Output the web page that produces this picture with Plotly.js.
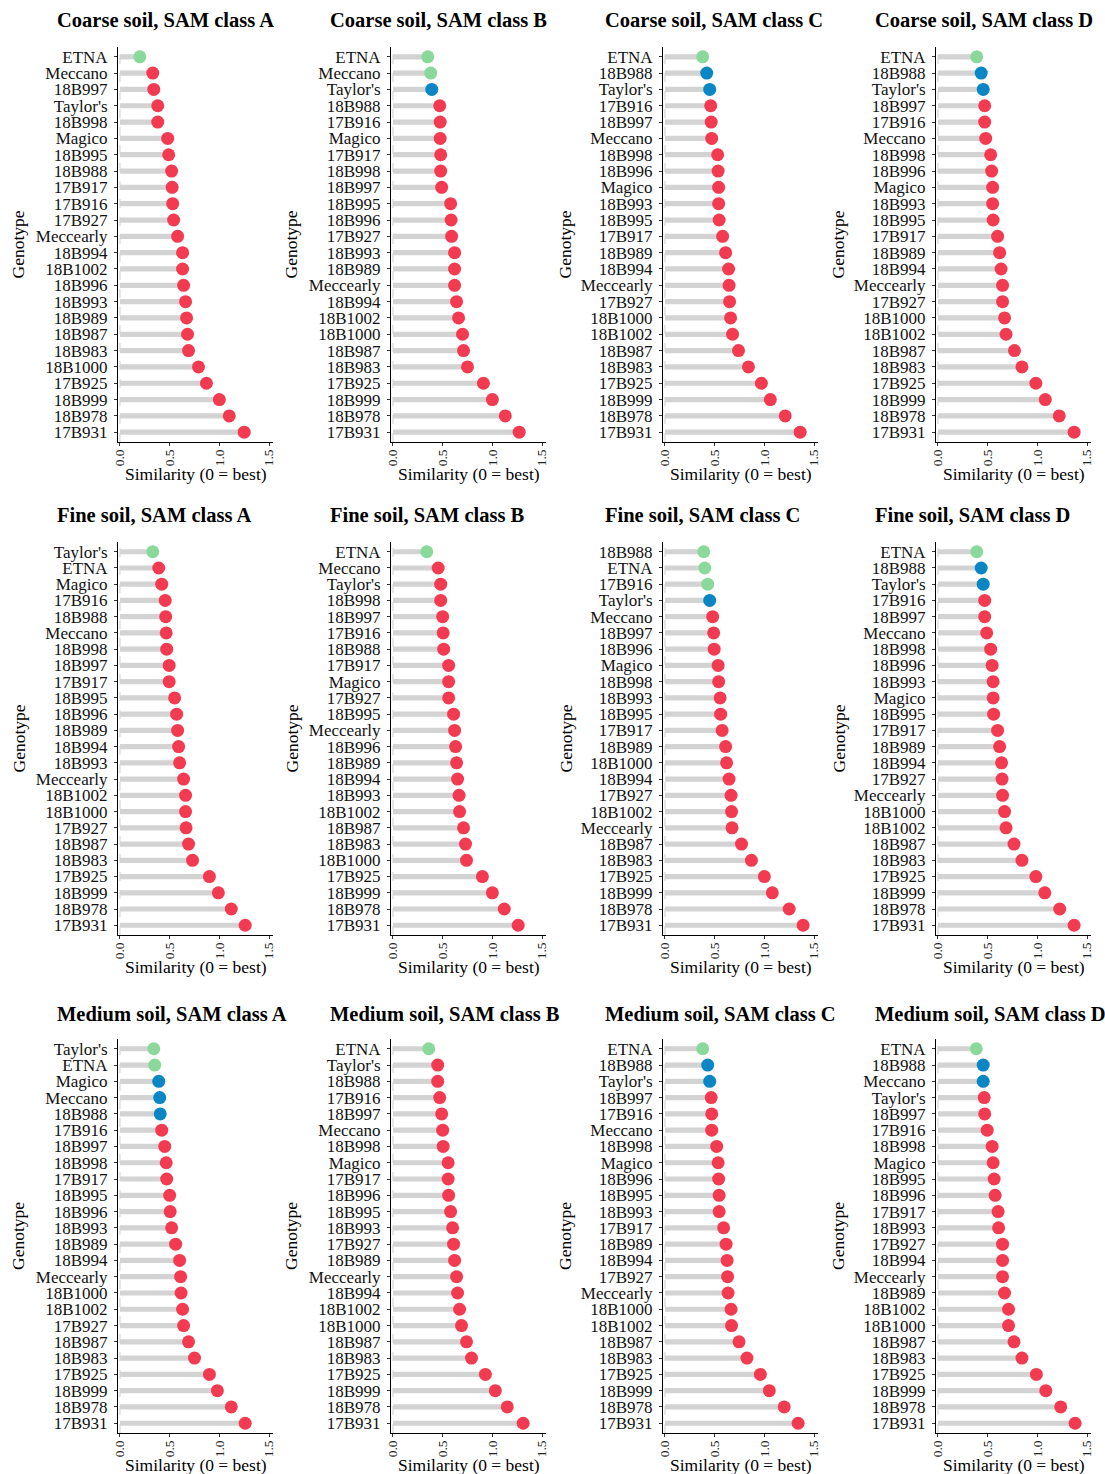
<!DOCTYPE html>
<html>
<head>
<meta charset="utf-8">
<script src="https://cdn.plot.ly/plotly-3.0.1.min.js"></script>
<style>html,body{margin:0;padding:0;background:#fff;}#chart{width:1105px;height:1474px;}</style>
</head>
<body>
<div id="chart"></div>
<script>
// ---------------- DATA ----------------
const coarseA_geno = ["ETNA","Meccano","18B997","Taylor's","18B998","Magico","18B995","18B988","17B917","17B916","17B927","Meccearly","18B994","18B1002","18B996","18B993","18B989","18B987","18B983","18B1000","17B925","18B999","18B978","17B931"];
const coarseA_val  = [0.20,0.33,0.34,0.38,0.38,0.48,0.49,0.52,0.525,0.53,0.54,0.58,0.63,0.63,0.64,0.66,0.67,0.68,0.69,0.79,0.87,1.00,1.10,1.25];
const coarseA_grp  = "GRRRRRRRRRRRRRRRRRRRRRRR";

const coarseB_geno = ["ETNA","Meccano","Taylor's","18B988","17B916","Magico","17B917","18B998","18B997","18B995","18B996","17B927","18B993","18B989","Meccearly","18B994","18B1002","18B1000","18B987","18B983","17B925","18B999","18B978","17B931"];
const coarseB_val  = [0.35,0.38,0.39,0.47,0.475,0.475,0.48,0.48,0.49,0.58,0.585,0.59,0.62,0.62,0.62,0.64,0.66,0.70,0.71,0.75,0.91,1.00,1.13,1.27];
const coarseB_grp  = "GGBRRRRRRRRRRRRRRRRRRRRR";

const coarseC_geno = ["ETNA","18B988","Taylor's","17B916","18B997","Meccano","18B998","18B996","Magico","18B993","18B995","17B917","18B989","18B994","Meccearly","17B927","18B1000","18B1002","18B987","18B983","17B925","18B999","18B978","17B931"];
const coarseC_val  = [0.38,0.42,0.45,0.46,0.465,0.47,0.53,0.535,0.54,0.54,0.545,0.58,0.61,0.64,0.645,0.65,0.66,0.68,0.74,0.84,0.97,1.06,1.21,1.36];
const coarseC_grp  = "GBBRRRRRRRRRRRRRRRRRRRRR";

const coarseD_geno = ["ETNA","18B988","Taylor's","18B997","17B916","Meccano","18B998","18B996","Magico","18B993","18B995","17B917","18B989","18B994","Meccearly","17B927","18B1000","18B1002","18B987","18B983","17B925","18B999","18B978","17B931"];
const coarseD_val  = [0.39,0.435,0.455,0.47,0.47,0.48,0.53,0.54,0.55,0.55,0.555,0.60,0.62,0.635,0.65,0.65,0.67,0.685,0.77,0.845,0.985,1.08,1.22,1.37];
const coarseD_grp  = "GBBRRRRRRRRRRRRRRRRRRRRR";

const fineA_geno = ["Taylor's","ETNA","Magico","17B916","18B988","Meccano","18B998","18B997","17B917","18B995","18B996","18B989","18B994","18B993","Meccearly","18B1002","18B1000","17B927","18B987","18B983","17B925","18B999","18B978","17B931"];
const fineA_val  = [0.33,0.39,0.42,0.455,0.46,0.465,0.47,0.495,0.495,0.55,0.57,0.58,0.59,0.60,0.64,0.66,0.66,0.665,0.69,0.73,0.90,0.99,1.12,1.26];
const fineA_grp  = "GRRRRRRRRRRRRRRRRRRRRRRR";

const fineB_geno = ["ETNA","Meccano","Taylor's","18B998","18B997","17B916","18B988","17B917","Magico","17B927","18B995","Meccearly","18B996","18B989","18B994","18B993","18B1002","18B987","18B983","18B1000","17B925","18B999","18B978","17B931"];
const fineB_val  = [0.34,0.455,0.48,0.48,0.50,0.505,0.51,0.56,0.56,0.56,0.61,0.62,0.63,0.64,0.65,0.665,0.67,0.71,0.73,0.74,0.90,1.00,1.12,1.26];
const fineB_grp  = "GRRRRRRRRRRRRRRRRRRRRRRR";

const fineC_geno = ["18B988","ETNA","17B916","Taylor's","Meccano","18B997","18B996","Magico","18B998","18B993","18B995","17B917","18B989","18B1000","18B994","17B927","18B1002","Meccearly","18B987","18B983","17B925","18B999","18B978","17B931"];
const fineC_val  = [0.39,0.40,0.43,0.45,0.48,0.49,0.495,0.535,0.54,0.555,0.56,0.575,0.61,0.62,0.645,0.665,0.67,0.675,0.77,0.87,1.00,1.08,1.25,1.39];
const fineC_grp  = "GGGBRRRRRRRRRRRRRRRRRRRR";

const fineD_geno = ["ETNA","18B988","Taylor's","17B916","18B997","Meccano","18B998","18B996","18B993","Magico","18B995","17B917","18B989","18B994","17B927","Meccearly","18B1000","18B1002","18B987","18B983","17B925","18B999","18B978","17B931"];
const fineD_val  = [0.39,0.435,0.455,0.47,0.47,0.49,0.53,0.545,0.555,0.555,0.56,0.60,0.62,0.64,0.645,0.65,0.67,0.685,0.765,0.845,0.985,1.075,1.225,1.37];
const fineD_grp  = "GBBRRRRRRRRRRRRRRRRRRRRR";

const mediumA_geno = ["Taylor's","ETNA","Magico","Meccano","18B988","17B916","18B997","18B998","17B917","18B995","18B996","18B993","18B989","18B994","Meccearly","18B1000","18B1002","17B927","18B987","18B983","17B925","18B999","18B978","17B931"];
const mediumA_val  = [0.34,0.35,0.39,0.40,0.405,0.42,0.45,0.465,0.47,0.50,0.505,0.52,0.56,0.60,0.61,0.615,0.63,0.64,0.69,0.75,0.90,0.98,1.12,1.26];
const mediumA_grp  = "GGBBBRRRRRRRRRRRRRRRRRRR";

const mediumB_geno = ["ETNA","Taylor's","18B988","17B916","18B997","Meccano","18B998","Magico","17B917","18B996","18B995","18B993","17B927","18B989","Meccearly","18B994","18B1002","18B1000","18B987","18B983","17B925","18B999","18B978","17B931"];
const mediumB_val  = [0.36,0.45,0.45,0.47,0.49,0.50,0.505,0.555,0.555,0.56,0.58,0.60,0.61,0.62,0.64,0.65,0.67,0.69,0.74,0.79,0.93,1.03,1.15,1.31];
const mediumB_grp  = "GRRRRRRRRRRRRRRRRRRRRRRR";

const mediumC_geno = ["ETNA","18B988","Taylor's","18B997","17B916","Meccano","18B998","Magico","18B996","18B995","18B993","17B917","18B989","18B994","17B927","Meccearly","18B1000","18B1002","18B987","18B983","17B925","18B999","18B978","17B931"];
const mediumC_val  = [0.38,0.43,0.45,0.465,0.47,0.47,0.52,0.535,0.54,0.545,0.545,0.59,0.615,0.625,0.63,0.635,0.665,0.67,0.745,0.825,0.96,1.05,1.20,1.34];
const mediumC_grp  = "GBBRRRRRRRRRRRRRRRRRRRRR";

const mediumD_geno = ["ETNA","18B988","Meccano","Taylor's","18B997","17B916","18B998","Magico","18B995","18B996","17B917","18B993","17B927","18B994","Meccearly","18B989","18B1002","18B1000","18B987","18B983","17B925","18B999","18B978","17B931"];
const mediumD_val  = [0.385,0.455,0.455,0.465,0.47,0.495,0.545,0.555,0.565,0.575,0.605,0.61,0.65,0.65,0.65,0.67,0.71,0.71,0.765,0.845,0.99,1.085,1.235,1.38];
const mediumD_grp  = "GBBRRRRRRRRRRRRRRRRRRRRR";

const panelTitles = [
  "Coarse soil, SAM class A","Coarse soil, SAM class B","Coarse soil, SAM class C","Coarse soil, SAM class D",
  "Fine soil, SAM class A","Fine soil, SAM class B","Fine soil, SAM class C","Fine soil, SAM class D",
  "Medium soil, SAM class A","Medium soil, SAM class B","Medium soil, SAM class C","Medium soil, SAM class D"
];
const xTitle = "Similarity (0 = best)";
const yTitle = "Genotype";

// ---------------- STYLE / LAYOUT ----------------
const panels = [
  [coarseA_geno, coarseA_val, coarseA_grp],[coarseB_geno, coarseB_val, coarseB_grp],
  [coarseC_geno, coarseC_val, coarseC_grp],[coarseD_geno, coarseD_val, coarseD_grp],
  [fineA_geno, fineA_val, fineA_grp],[fineB_geno, fineB_val, fineB_grp],
  [fineC_geno, fineC_val, fineC_grp],[fineD_geno, fineD_val, fineD_grp],
  [mediumA_geno, mediumA_val, mediumA_grp],[mediumB_geno, mediumB_val, mediumB_grp],
  [mediumC_geno, mediumC_val, mediumC_grp],[mediumD_geno, mediumD_val, mediumD_grp]
];
const W = 1105, H = 1474;
const FONT = "Liberation Serif, Times New Roman, serif";
const colX = [[118,273],[391,546],[663,818],[936,1091]];
const rowY = [[47,442],[542,935],[1039,1433]];
const titleX = [55,328,603,873];
const titleY = [20,515,1014];
const genoX = [18,291,565,838];
const grpColor = {G:"#8ad99b", B:"#0a86c4", R:"#f23b50"};

const data = [];
const layout = {
  width: W, height: H,
  margin: {l:0, r:0, t:0, b:0},
  paper_bgcolor: "#ffffff", plot_bgcolor: "#ffffff",
  showlegend: false,
  font: {family: FONT, color: "#000", size: 17},
  annotations: [], shapes: []
};

panels.forEach((p, i) => {
  const [geno, val, grp] = p;
  const r = Math.floor(i / 4), c = i % 4;
  const n = i + 1;
  const xa = "x" + n, ya = "y" + n;
  data.push({
    type: "bar", orientation: "h", x: val, y: geno, xaxis: xa, yaxis: ya,
    width: 0.32, marker: {color: "#d3d3d3", line: {width: 0}}, hoverinfo: "skip"
  });
  data.push({
    type: "scatter", mode: "markers", x: val, y: geno, xaxis: xa, yaxis: ya,
    marker: {size: 13, color: grp.split("").map(g => grpColor[g]), line: {width: 0}}
  });
  const xk = n === 1 ? "xaxis" : "xaxis" + n;
  const yk = n === 1 ? "yaxis" : "yaxis" + n;
  layout[xk] = {
    domain: [colX[c][0] / W, colX[c][1] / W], anchor: ya,
    range: [-0.02, 1.54], tickmode: "linear", tick0: 0, dtick: 0.5, tickformat: ".1f",
    tickangle: -90, showline: true, linecolor: "#000", linewidth: 1,
    ticks: "outside", ticklen: 3, tickcolor: "#333", showgrid: false, zeroline: false,
    ticklabelstandoff: -2,
    tickfont: {family: FONT, size: 13.5, color: "#222"}
  };
  layout[yk] = {
    domain: [1 - rowY[r][1] / H, 1 - rowY[r][0] / H], anchor: xa,
    type: "category", categoryorder: "array", categoryarray: geno,
    tickmode: "array", tickvals: geno, ticktext: geno,
    range: [23.6, -0.6], showline: true, linecolor: "#000", linewidth: 1,
    ticks: "outside", ticklen: 3, tickcolor: "#333", showgrid: false, zeroline: false,
    ticklabelstandoff: 3,
    tickfont: {family: FONT, size: 17, color: "#111"}
  };
  layout.shapes.push({
    type: "line", xref: xa, yref: ya + " domain", x0: 0, x1: 0, y0: 0, y1: 1,
    line: {color: "#cfcfcf", width: 1, dash: "dash"}, layer: "below"
  });
  layout.annotations.push({
    text: "<b>" + panelTitles[i] + "</b>", xref: "paper", yref: "paper",
    x: titleX[c] / W, y: 1 - titleY[r] / H, xanchor: "left", yanchor: "middle",
    showarrow: false, font: {family: FONT, size: 20.5, color: "#000"}
  });
  layout.annotations.push({
    text: xTitle, xref: "paper", yref: "paper",
    x: (colX[c][0] + colX[c][1]) / 2 / W, y: 1 - (rowY[r][1] + 32) / H,
    xanchor: "center", yanchor: "middle",
    showarrow: false, font: {family: FONT, size: 17.5, color: "#000"}
  });
  layout.annotations.push({
    text: yTitle, xref: "paper", yref: "paper",
    x: genoX[c] / W, y: 1 - (rowY[r][0] + rowY[r][1]) / 2 / H,
    xanchor: "center", yanchor: "middle", textangle: -90,
    showarrow: false, font: {family: FONT, size: 17.5, color: "#000"}
  });
});

Plotly.newPlot("chart", data, layout, {displayModeBar: false, staticPlot: true});
</script>
</body>
</html>
